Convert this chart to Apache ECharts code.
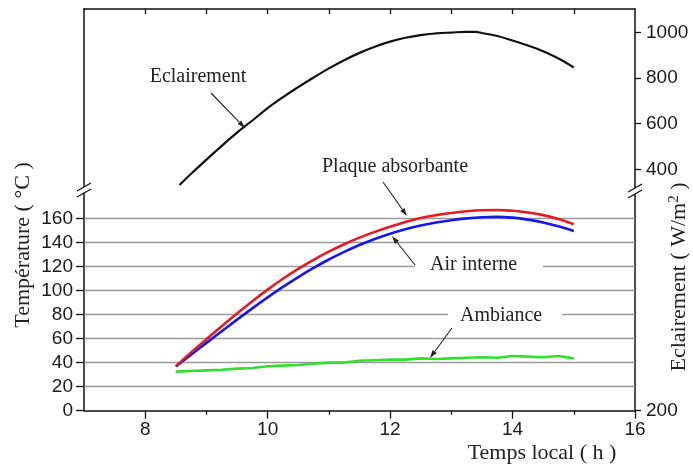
<!DOCTYPE html>
<html>
<head>
<meta charset="utf-8">
<script src="https://cdn.jsdelivr.net/npm/echarts@6/dist/echarts.min.js"></script>
<style>
  html, body { margin: 0; padding: 0; background: #fff; }
  #chart { width: 693px; height: 470px; }
</style>
</head>
<body>
<div id="chart"></div>
<script>
// heures (temps local)
const eclHours = [8.56, 8.75, 9.0, 9.25, 9.5, 9.75, 10.0, 10.25, 10.5, 10.75, 11.0, 11.25, 11.5, 11.75,
  12.0, 12.25, 12.5, 12.75, 13.0, 13.25, 13.4, 13.5, 13.75, 14.0, 14.25, 14.5, 14.75, 15.0]
const eclairement = [332, 381, 443, 503, 561, 614, 668, 716, 760, 802, 842, 878, 910, 937,
  959, 976, 988, 995, 999, 1002, 1002, 997, 984, 964, 942, 917, 885, 846]

const tempHours = [8.5, 8.75, 9.0, 9.25, 9.5, 9.75, 10.0, 10.25, 10.5, 10.75, 11.0, 11.25, 11.5, 11.75,
  12.0, 12.25, 12.5, 12.75, 13.0, 13.25, 13.5, 13.75, 14.0, 14.25, 14.5, 14.75, 15.0]
const plaque = [37, 48.5, 59.5, 70.3, 80.8, 91, 100.7, 109.7, 117.9, 125.4, 132.2, 138.4, 143.9, 148.7,
  153, 157, 160.3, 162.6, 164.4, 165.8, 166.7, 166.9, 166.2, 164.8, 162.6, 159.3, 155]
const airInterne = [36.8, 46.6, 56.4, 66.1, 75.7, 85.1, 94.2, 102.9, 111.1, 118.7, 125.7, 132.1, 137.8, 142.8,
  147.2, 150.9, 154, 156.5, 158.4, 159.9, 160.9, 161.2, 160.5, 158.9, 156.5, 153.3, 149.5]
const ambiance = [32.5, 33, 33.5, 34, 35, 35.5, 37, 37.5, 38, 39, 40, 40, 41.5, 42,
  42.5, 42.5, 43.5, 43, 43.5, 44, 44.5, 44, 45.5, 45, 44.5, 45.5, 43.5]

// graduations
const majorHours = [8, 10, 12, 14, 16]
const minorHours = [9, 11, 13, 15]
const topHours = [8, 9, 10, 11, 12, 13, 14, 15]
const tempTicks = [0, 20, 40, 60, 80, 100, 120, 140, 160]
const tempGrid = [20, 40, 60, 80, 100, 120, 140, 160]
const eclTicks = [400, 600, 800, 1000]
const eclBottomLabel = '200'

// echelle droite coupée : partie basse comprimée jusqu'au "200"
const eclMin = -656
const eclMax = 1102

function pairs(xs, ys) {
  return xs.map((x, i) => [x, ys[i]])
}

function arrow(x1, y1, x2, y2) {
  const a = Math.atan2(y2 - y1, x2 - x1)
  const L = 8
  const W = 2.6
  const bx = x2 - L * Math.cos(a)
  const by = y2 - L * Math.sin(a)
  return [
    { type: 'line', z: 20, shape: { x1, y1, x2: bx, y2: by }, style: { stroke: '#222', lineWidth: 1.1 } },
    {
      type: 'polygon', z: 20,
      shape: { points: [[x2, y2], [bx - W * Math.sin(a), by + W * Math.cos(a)], [bx + W * Math.sin(a), by - W * Math.cos(a)]] },
      style: { fill: '#222' },
    },
  ]
}

function breakMark(x, y) {
  return [
    { type: 'rect', z: 30, shape: { x: x - 4, y: y - 3, width: 8, height: 6 }, style: { fill: '#fff' } },
    { type: 'line', z: 31, shape: { x1: x - 7, y1: y + 1, x2: x + 7, y2: y - 7 }, style: { stroke: '#111', lineWidth: 1.3 } },
    { type: 'line', z: 31, shape: { x1: x - 7, y1: y + 7, x2: x + 7, y2: y - 1 }, style: { stroke: '#111', lineWidth: 1.3 } },
  ]
}

const serif = 'Liberation Serif'
const sans = 'Liberation Sans'
const axisColor = '#111'
const tickFont = { fontFamily: sans, fontSize: 19, color: '#1a1a1a' }

const chart = echarts.init(document.getElementById('chart'), null, { renderer: 'canvas' })

chart.setOption({
  animation: false,
  backgroundColor: '#fff',
  grid: { left: 84, right: 58, top: 9, bottom: 59.3, outerBoundsMode: 'none' },
  xAxis: [
    {
      type: 'value', min: 7, max: 16, position: 'bottom',
      axisLine: { show: true, onZero: false, lineStyle: { color: axisColor, width: 1.5 } },
      axisTick: { show: true, customValues: majorHours, length: 8, lineStyle: { color: axisColor, width: 1.3 } },
      axisLabel: { customValues: majorHours, margin: 10, ...tickFont },
      splitLine: { show: false },
    },
    {
      type: 'value', min: 7, max: 16, position: 'bottom',
      axisLine: { show: false, onZero: false },
      axisTick: { show: true, customValues: minorHours, length: 4, lineStyle: { color: axisColor, width: 1.3 } },
      axisLabel: { show: false },
      splitLine: { show: false },
    },
    {
      type: 'value', min: 7, max: 16, position: 'top',
      axisLine: { show: true, onZero: false, lineStyle: { color: axisColor, width: 1.5 } },
      axisTick: { show: true, inside: true, customValues: topHours, length: 5, lineStyle: { color: axisColor, width: 1.3 } },
      axisLabel: { show: false },
      splitLine: { show: false },
    },
  ],
  yAxis: [
    {
      type: 'value', min: 0, max: 334, position: 'left',
      axisLine: { show: true, onZero: false, lineStyle: { color: axisColor, width: 1.5 } },
      axisTick: { show: true, customValues: tempTicks, length: 8, lineStyle: { color: axisColor, width: 1.3 } },
      axisLabel: { customValues: tempTicks, margin: 11, ...tickFont },
      splitLine: { show: false },
    },
    {
      type: 'value', min: eclMin, max: eclMax, position: 'right',
      axisLine: { show: true, onZero: false, lineStyle: { color: axisColor, width: 1.5 } },
      axisTick: { show: true, customValues: [eclMin, ...eclTicks], length: 6, lineStyle: { color: axisColor, width: 1.3 } },
      axisLabel: {
        customValues: [eclMin, ...eclTicks], margin: 11, ...tickFont,
        formatter: (v) => (v === eclMin ? eclBottomLabel : String(v)),
      },
      splitLine: { show: false },
    },
  ],
  series: [
    {
      name: 'Ambiance', type: 'line', xAxisIndex: 0, yAxisIndex: 0, z: 3,
      data: pairs(tempHours, ambiance), showSymbol: false, smooth: false,
      lineStyle: { color: '#2fe02f', width: 2.6 },
      markLine: {
        silent: true, symbol: 'none', z: 1,
        label: { show: false },
        lineStyle: { color: '#9a9a9a', width: 1.4, type: 'solid' },
        data: tempGrid.map((v) => ({ yAxis: v })),
      },
    },
    {
      name: 'Air interne', type: 'line', xAxisIndex: 0, yAxisIndex: 0, z: 4,
      data: pairs(tempHours, airInterne), showSymbol: false, smooth: 0.4,
      lineStyle: { color: '#1717e8', width: 2.6 },
    },
    {
      name: 'Plaque absorbante', type: 'line', xAxisIndex: 0, yAxisIndex: 0, z: 4,
      data: pairs(tempHours, plaque), showSymbol: false, smooth: 0.4,
      lineStyle: { color: '#e41b22', width: 2.6 },
    },
    {
      name: 'Eclairement', type: 'line', xAxisIndex: 0, yAxisIndex: 1, z: 4,
      data: pairs(eclHours, eclairement), showSymbol: false, smooth: 0.4,
      lineStyle: { color: '#111', width: 2.2 },
    },
  ],
  graphic: [
    { type: 'text', z: 20, x: 198, y: 77, style: { text: 'Eclairement', font: '20px "Liberation Serif"', fill: '#222', align: 'center', verticalAlign: 'middle' } },
    { type: 'text', z: 20, x: 395, y: 167, style: { text: 'Plaque absorbante', font: '20px "Liberation Serif"', fill: '#222', align: 'center', verticalAlign: 'middle' } },
    { type: 'rect', z: 15, shape: { x: 415, y: 256, width: 128, height: 20 }, style: { fill: '#fff' } },
    { type: 'text', z: 20, x: 430, y: 265, style: { text: 'Air interne', font: '20px "Liberation Serif"', fill: '#222', align: 'left', verticalAlign: 'middle' } },
    { type: 'rect', z: 15, shape: { x: 448, y: 306, width: 114, height: 20 }, style: { fill: '#fff' } },
    { type: 'text', z: 20, x: 460, y: 316, style: { text: 'Ambiance', font: '20px "Liberation Serif"', fill: '#222', align: 'left', verticalAlign: 'middle' } },
    ...arrow(211, 93, 245, 128),
    ...arrow(383, 182, 407, 216),
    ...arrow(415, 265, 392, 236),
    ...arrow(452, 328, 430, 358),
    { type: 'text', z: 20, x: 542, y: 453, style: { text: 'Temps local ( h )', font: '22px "Liberation Serif"', fill: '#222', align: 'center', verticalAlign: 'middle' } },
    { type: 'text', z: 20, x: 23, y: 245, rotation: Math.PI / 2, style: { text: 'Température ( °C )', font: '22px "Liberation Serif"', fill: '#222', align: 'center', verticalAlign: 'middle' } },
    {
      type: 'text', z: 20, x: 679, y: 277, rotation: Math.PI / 2,
      style: {
        text: '{a|Eclairement ( W/m}{s|2}{a| )}',
        align: 'center', verticalAlign: 'middle',
        rich: {
          a: { fontFamily: serif, fontSize: 22, fill: '#222', color: '#222' },
          s: { fontFamily: serif, fontSize: 15, fill: '#222', color: '#222', padding: [0, 0, 9, 0] },
        },
      },
    },
    ...breakMark(84, 190),
    ...breakMark(635, 191),
  ],
})
</script>
</body>
</html>
